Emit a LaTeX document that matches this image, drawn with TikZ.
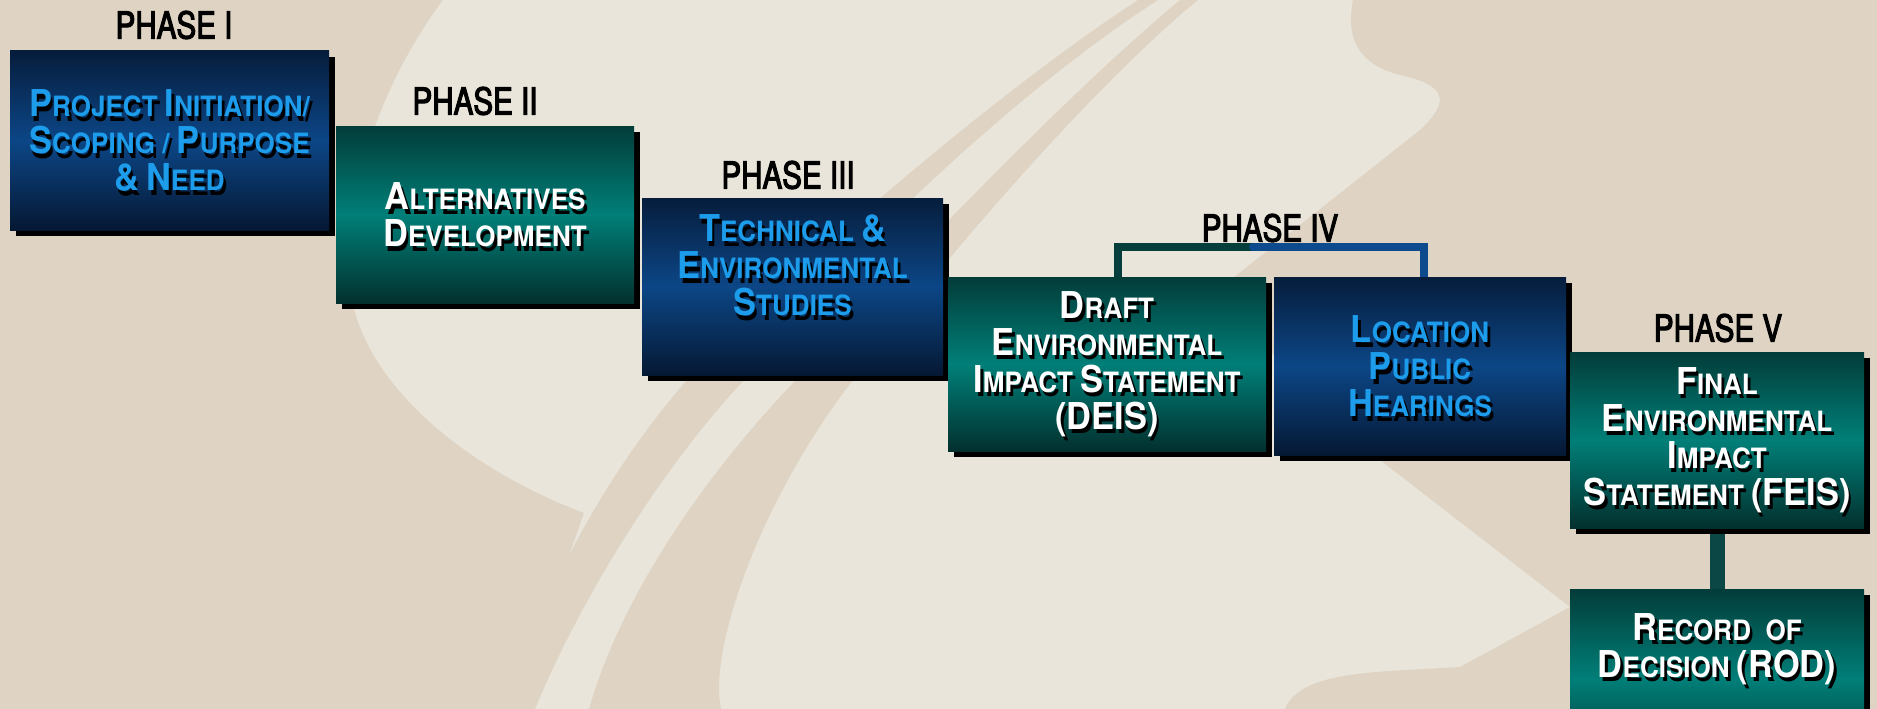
\documentclass[tikz,border=0pt]{standalone}
\usepackage{fontspec}
\setmainfont{TeX Gyre Heros}
\newfontfamily\phasefont{TeX Gyre Heros}[FakeStretch=0.8, FakeBold=3]
\newfontfamily\boxfont{TeX Gyre Heros}[FakeStretch=0.93]
\definecolor{bgL}{HTML}{E9E5DA}
\definecolor{bgD}{HTML}{DFD4C4}
\definecolor{bTop}{HTML}{061D3C}
\definecolor{bMid}{HTML}{0C4686}
\definecolor{bBot}{HTML}{051833}
\definecolor{tTop}{HTML}{023C39}
\definecolor{tMid}{HTML}{017F78}
\definecolor{tBot}{HTML}{02302E}
\definecolor{txtBlue}{HTML}{1C9CEA}
\definecolor{brTeal}{HTML}{043F3B}
\definecolor{brBlue}{HTML}{0D4A8E}
\definecolor{connTeal}{HTML}{0B4744}
\pgfdeclarelayer{bglayer}
\pgfdeclarelayer{connlayer}
\pgfsetlayers{bglayer,connlayer,main}
\newcommand\Bg[1]{{\fontsize{37}{37}\selectfont #1}}
\newcommand\Sm[1]{{\fontsize{28}{37}\selectfont #1}}
\newcommand\Sh[1]{\leavevmode\rlap{\kern2.7pt\smash{\raisebox{-4.7pt}{\color{black}#1}}}#1}
\tikzset{
  box/.style={rectangle, inner sep=0pt, align=center,
    font=\boxfont\bfseries\fontsize{28}{37}\selectfont,
    preaction={fill=black, transform canvas={xshift=6pt, yshift=-6pt}}},
  bluebox/.style={box, top color=bTop, bottom color=bBot, middle color=bMid, text=txtBlue},
  tealbox/.style={box, top color=tTop, bottom color=tBot, middle color=tMid, text=white},
  boxtext/.style={inner sep=0pt, align=center, font=\boxfont\bfseries\fontsize{28}{37}\selectfont, text=white},
  phase/.style={inner sep=0pt, font=\phasefont\fontsize{37}{40}\selectfont, text=black},
}
\begin{document}
\begin{tikzpicture}[x=1pt,y=-1pt]
\useasboundingbox (0,0) rectangle (1877,709);
\begin{pgfonlayer}{bglayer}
\fill[bgL] (0,0) rectangle (1877,709);
% left dark region
\fill[bgD] (0,0) -- (443,0) .. controls (375,90) and (335,220) .. (352,300)
  .. controls (370,390) and (470,470) .. (584,513) -- (515,709) -- (0,709) -- cycle;
% stripe 1
\fill[bgD] (1138,0) .. controls (1000,90) and (800,260) .. (687,380)
  .. controls (600,480) and (540,600) .. (505,709) -- (535,709)
  .. controls (580,600) and (660,470) .. (744,380)
  .. controls (830,270) and (1010,95) .. (1158,0) -- cycle;
% stripe 2
\fill[bgD] (1180,0) .. controls (1060,100) and (900,270) .. (796,380)
  .. controls (700,480) and (620,600) .. (589,709) -- (721,709)
  .. controls (708,650) and (760,500) .. (853,380)
  .. controls (950,250) and (1100,80) .. (1198,0) -- cycle;
% right dark region
\fill[bgD] (1353,0) .. controls (1345,40) and (1360,65) .. (1400,75)
  .. controls (1445,85) and (1452,100) .. (1420,130) -- (1224,285) -- (1320,420)
  -- (1380,460) -- (1570,607) -- (1460,667)
  .. controls (1380,672) and (1300,670) .. (1285,709)
  -- (1877,709) -- (1877,0) -- cycle;
\end{pgfonlayer}

\clip (0,0) rectangle (1877,709);

% phase labels
\node[phase] (p1) at (174,25) {PHASE I};
\node[phase] (p2) at (475,101) {PHASE II};
\node[phase] (p3) at (788,175) {PHASE III};
\node[phase] (p4) at (1270,228) {PHASE IV};
\node[phase] (p5) at (1718,328) {PHASE V};

% boxes
\node[bluebox, minimum width=319pt, minimum height=179pt] (b1) at (169.5,140.5)
  {\Sh{\Bg{P}\Sm{ROJECT} \Bg{I}\Sm{NITIATION/}}\\
   \Sh{\Bg{S}\Sm{COPING} \Sm{/} \Bg{P}\Sm{URPOSE}}\\
   \Sh{\Bg{\&} \Bg{N}\Sm{EED}}};
\node[tealbox, minimum width=298pt, minimum height=177pt] (b2) at (485,214.5)
  {\Sh{\Bg{A}\Sm{LTERNATIVES}}\\
   \Sh{\Bg{D}\Sm{EVELOPMENT}}};
\node[bluebox, minimum width=301pt, minimum height=177pt] (b3) at (792.5,286.5)
  {\Sh{\Bg{T}\Sm{ECHNICAL} \Bg{\&}}\\
   \Sh{\Bg{E}\Sm{NVIRONMENTAL}}\\
   \Sh{\Bg{S}\Sm{TUDIES}}\\[5pt]};
\node[tealbox, minimum width=318pt, minimum height=174pt] (b4) at (1107,364)
  {\Sh{\Bg{D}\Sm{RAFT}}\\
   \Sh{\Bg{E}\Sm{NVIRONMENTAL}}\\
   \Sh{\Bg{I}\Sm{MPACT} \Bg{S}\Sm{TATEMENT}}\\
   \Sh{\Bg{(DEIS)}}};
\node[bluebox, minimum width=292pt, minimum height=178pt] (b5) at (1420,366)
  {\Sh{\Bg{L}\Sm{OCATION}}\\
   \Sh{\Bg{P}\Sm{UBLIC}}\\
   \Sh{\Bg{H}\Sm{EARINGS}}};
\node[tealbox, minimum width=294pt, minimum height=176pt] (b6) at (1717,440)
  {\Sh{\Bg{F}\Sm{INAL}}\\
   \Sh{\Bg{E}\Sm{NVIRONMENTAL}}\\
   \Sh{\Bg{I}\Sm{MPACT}}\\
   \Sh{\Bg{S}\Sm{TATEMENT} \Bg{(FEIS)}}};
\node[tealbox, minimum width=294pt, minimum height=180pt] (b7) at (1717,679) {};
\node[boxtext] (b7t) at (1717,649)
  {\Sh{\Bg{R}\Sm{ECORD\ \ OF}}\\
   \Sh{\Bg{D}\Sm{ECISION} \Bg{(ROD)}}};

% connectors
\begin{pgfonlayer}{connlayer}
\coordinate (brmid) at (1262,247);
\coordinate (brjoin) at (1253,247);
\draw[brTeal, line width=8pt, line join=miter] ([xshift=11pt]b4.north) |- (brmid);
\draw[brBlue, line width=8pt, line join=miter] (brjoin) -| ([xshift=4pt]b5.north);
\fill[brBlue] (brjoin) circle (4pt);
\draw[connTeal, line width=15pt] (b6.south) -- (b7.north);
\end{pgfonlayer}
\end{tikzpicture}
\end{document}
